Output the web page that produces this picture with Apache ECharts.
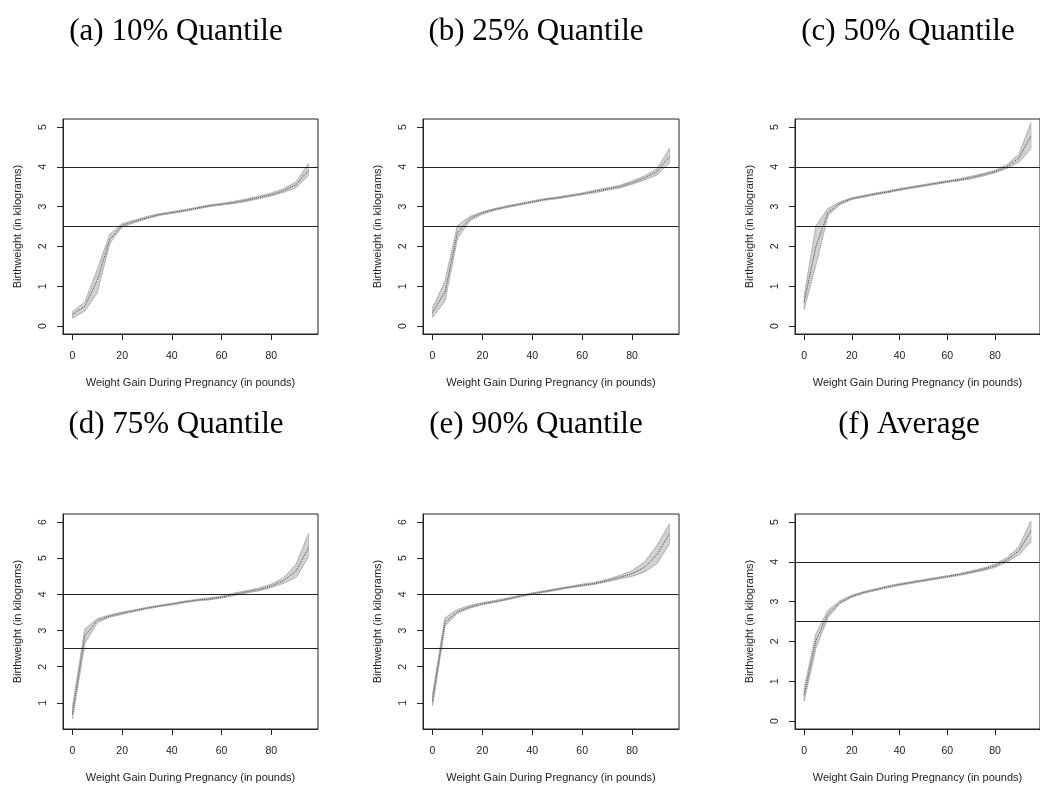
<!DOCTYPE html>
<html>
<head>
<meta charset="utf-8">
<script src="https://cdn.jsdelivr.net/npm/echarts@6/dist/echarts.min.js"></script>
<style>
  html, body { margin: 0; padding: 0; background: #fff; }
  #chart { width: 1040px; height: 785px; }
</style>
</head>
<body>
<div id="chart"></div>
<script>
// x values: weight gain during pregnancy (pounds)
const weightGain = [0,5,10,15,20,25,30,35,40,45,50,55,60,65,70,75,80,85,90,95];
const xTicks = [0,20,40,60,80];
const yTicksTop = [0,1,2,3,4,5];
const yTicksHigh = [1,2,3,4,5,6];
const refLines = [2.5, 4];

const panelTitles = ['(a) 10% Quantile','(b) 25% Quantile','(c) 50% Quantile',
                     '(d) 75% Quantile','(e) 90% Quantile','(f) Average'];

// (a) 10% quantile
const q10Center = [0.29,0.50,1.15,2.17,2.53,2.63,2.72,2.80,2.85,2.90,2.96,3.02,3.06,3.10,3.16,3.23,3.30,3.40,3.55,3.92];
const q10Lower  = [0.20,0.38,0.84,2.08,2.49,2.60,2.70,2.78,2.83,2.88,2.94,3.00,3.04,3.08,3.13,3.20,3.27,3.36,3.48,3.78];
const q10Upper  = [0.36,0.60,1.42,2.30,2.57,2.66,2.75,2.82,2.87,2.92,2.98,3.04,3.08,3.13,3.19,3.26,3.34,3.45,3.62,4.08];
// (b) 25% quantile
const q25Center = [0.34,0.85,2.34,2.70,2.84,2.93,3.00,3.06,3.12,3.18,3.22,3.27,3.32,3.38,3.44,3.50,3.60,3.72,3.88,4.26];
const q25Lower  = [0.22,0.63,2.20,2.65,2.81,2.91,2.98,3.04,3.10,3.16,3.20,3.25,3.30,3.35,3.41,3.47,3.56,3.67,3.80,4.10];
const q25Upper  = [0.45,1.12,2.52,2.75,2.87,2.95,3.02,3.08,3.14,3.20,3.24,3.29,3.34,3.41,3.47,3.53,3.64,3.77,3.95,4.46];
// (c) 50% quantile
const q50Center = [0.59,2.00,2.85,3.08,3.20,3.26,3.32,3.37,3.43,3.48,3.53,3.58,3.63,3.67,3.73,3.80,3.88,4.00,4.22,4.78];
const q50Lower  = [0.42,1.55,2.78,3.05,3.18,3.24,3.30,3.35,3.41,3.46,3.51,3.56,3.61,3.65,3.70,3.77,3.85,3.96,4.12,4.45];
const q50Upper  = [0.72,2.52,2.95,3.12,3.22,3.28,3.34,3.39,3.45,3.50,3.55,3.60,3.65,3.70,3.76,3.83,3.91,4.05,4.32,5.10];
// (d) 75% quantile
const q75Center = [0.70,2.86,3.28,3.40,3.48,3.55,3.62,3.68,3.73,3.79,3.84,3.87,3.92,4.00,4.07,4.13,4.23,4.38,4.65,5.30];
const q75Lower  = [0.56,2.65,3.22,3.37,3.45,3.53,3.60,3.66,3.71,3.77,3.82,3.85,3.90,3.97,4.04,4.10,4.19,4.31,4.47,5.05];
const q75Upper  = [0.88,3.04,3.33,3.43,3.51,3.57,3.64,3.70,3.75,3.81,3.86,3.90,3.95,4.03,4.10,4.17,4.28,4.46,4.83,5.68];
// (e) 90% quantile
const q90Center = [1.05,3.23,3.52,3.65,3.74,3.80,3.87,3.95,4.02,4.08,4.14,4.20,4.25,4.30,4.38,4.47,4.57,4.75,5.10,5.68];
const q90Lower  = [0.92,3.12,3.48,3.62,3.72,3.78,3.85,3.93,4.00,4.06,4.12,4.18,4.23,4.28,4.35,4.43,4.50,4.62,4.85,5.40];
const q90Upper  = [1.22,3.35,3.58,3.69,3.77,3.83,3.90,3.97,4.04,4.10,4.16,4.22,4.28,4.33,4.41,4.52,4.65,4.90,5.35,5.95];
// (f) average
const avgCenter = [0.66,2.03,2.68,2.98,3.13,3.23,3.30,3.37,3.43,3.48,3.53,3.58,3.63,3.68,3.74,3.81,3.90,4.05,4.28,4.78];
const avgLower  = [0.50,1.85,2.60,2.95,3.11,3.21,3.28,3.35,3.41,3.46,3.51,3.56,3.61,3.66,3.72,3.78,3.86,4.00,4.18,4.50];
const avgUpper  = [0.80,2.20,2.78,3.02,3.16,3.25,3.32,3.39,3.45,3.50,3.55,3.60,3.65,3.70,3.77,3.84,3.94,4.10,4.38,5.02];

const panels = [
  {c:q10Center, lo:q10Lower, hi:q10Upper, high:false},
  {c:q25Center, lo:q25Lower, hi:q25Upper, high:false},
  {c:q50Center, lo:q50Lower, hi:q50Upper, high:false},
  {c:q75Center, lo:q75Lower, hi:q75Upper, high:true},
  {c:q90Center, lo:q90Lower, hi:q90Upper, high:true},
  {c:avgCenter, lo:avgLower, hi:avgUpper, high:false}
];

// layout
const gridLefts = [63, 423, 795];
const gridWidths = [255, 256, 255];
const gridTops = [119, 514];
const gridH = 215;
const titleCenters = [[176,536,908],[176,536,909]];
const titleTops = [16, 409];

const AX = '#222';
const sans = 'Liberation Sans';

const grids = [], xAxes = [], yAxes = [], series = [], titles = [];
panels.forEach((p, i) => {
  const row = Math.floor(i / 3), col = i % 3;
  grids.push({left: gridLefts[col], top: gridTops[row], width: gridWidths[col], height: gridH,
    show: true, borderColor: AX, borderWidth: 1, backgroundColor: 'transparent', containLabel: false});
  titles.push({text: panelTitles[i], left: titleCenters[row][col], top: titleTops[row],
    textAlign: 'center', padding: 0,
    textStyle: {fontFamily: 'Liberation Serif', fontSize: 31, fontWeight: 'normal', color: '#000'}});
  xAxes.push({type: 'value', gridIndex: i, min: -3.8, max: 98.8,
    axisLine: {show: true, onZero: false, lineStyle: {color: AX, width: 1}}, splitLine: {show: false},
    axisTick: {show: true, inside: false, customValues: xTicks, length: 6, lineStyle: {color: AX}},
    axisLabel: {customValues: xTicks, margin: 17, fontSize: 10.5, color: AX, fontFamily: sans},
    name: 'Weight Gain During Pregnancy (in pounds)', nameLocation: 'middle', nameGap: 43,
    nameTextStyle: {fontSize: 11, color: AX, fontFamily: sans}});
  const yt = p.high ? yTicksHigh : yTicksTop;
  yAxes.push({type: 'value', gridIndex: i,
    min: p.high ? 0.28 : -0.2, max: p.high ? 6.22 : 5.2,
    axisLine: {show: true, onZero: false, lineStyle: {color: AX, width: 1}}, splitLine: {show: false},
    axisTick: {show: true, inside: false, customValues: yt, length: 6, lineStyle: {color: AX}},
    axisLabel: {customValues: yt, margin: 14, rotate: 90, fontSize: 10.5, color: AX, fontFamily: sans},
    name: 'Birthweight (in kilograms)', nameLocation: 'middle', nameGap: 40,
    nameTextStyle: {fontSize: 11, color: AX, fontFamily: sans}});

  const bandData = weightGain.map((x, k) => [x, p.lo[k], p.hi[k]]);
  const base = {xAxisIndex: i, yAxisIndex: i, silent: true, animation: false};
  // confidence band polygon, positioned through the axis scales
  series.push(Object.assign({}, base, {
    type: 'custom', data: bandData, encode: {x: 0, y: [1, 2]}, z: 1,
    renderItem: function (params, api) {
      if (params.dataIndex !== 0) return null;
      const top = [], bot = [];
      for (let k = 0; k < weightGain.length; k++) {
        top.push(api.coord([weightGain[k], p.hi[k]]));
        bot.push(api.coord([weightGain[k], p.lo[k]]));
      }
      return {type: 'polygon', shape: {points: top.concat(bot.reverse())},
        style: {fill: '#d2d2d2', stroke: '#b4b4b4', lineWidth: 0.8}};
    }
  }));
  series.push(Object.assign({}, base, {type: 'line', symbol: 'none', z: 2,
    data: weightGain.map((x, k) => [x, p.lo[k]]), lineStyle: {color: '#b0b0b0', width: 0.7}}));
  series.push(Object.assign({}, base, {type: 'line', symbol: 'none', z: 2,
    data: weightGain.map((x, k) => [x, p.hi[k]]), lineStyle: {color: '#b0b0b0', width: 0.7}}));
  series.push(Object.assign({}, base, {type: 'line', symbol: 'none', z: 3,
    data: weightGain.map((x, k) => [x, p.c[k]]),
    lineStyle: {color: '#444', width: 1, type: 'dotted'},
    markLine: {silent: true, symbol: ['none', 'none'], animation: false, label: {show: false},
      lineStyle: {color: AX, width: 1, type: 'solid'},
      data: refLines.map(v => ({yAxis: v}))}}));
});

const chart = echarts.init(document.getElementById('chart'), null, {renderer: 'canvas'});
chart.setOption({
  animation: false,
  backgroundColor: '#fff',
  title: titles,
  grid: grids,
  xAxis: xAxes,
  yAxis: yAxes,
  series: series
});
</script>
</body>
</html>
